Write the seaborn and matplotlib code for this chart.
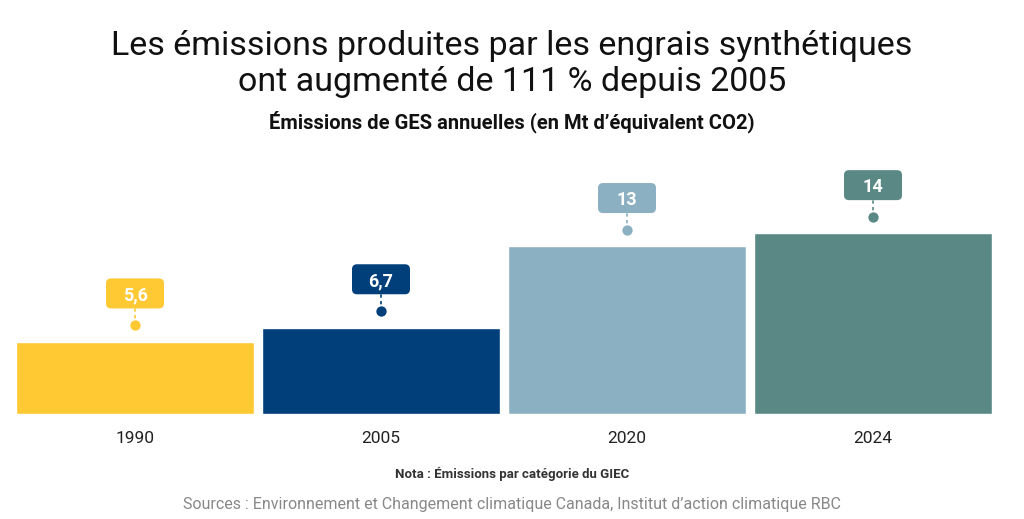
import matplotlib
matplotlib.use("Agg")
import matplotlib.pyplot as plt
import matplotlib.transforms as mtransforms
from matplotlib.patches import FancyBboxPatch
import seaborn as sns
import pandas as pd

years = ["1990", "2005", "2020", "2024"]
values = [5.6, 6.7, 13, 14]
value_labels = ["5,6", "6,7", "13", "14"]
colors = ["#FFC933", "#003F7A", "#8BB0C2", "#5A8985"]

title = "Les émissions produites par les engrais synthétiques\nont augmenté de 111 % depuis 2005"
subtitle = "Émissions de GES annuelles (en Mt d’équivalent CO2)"
note = "Nota : Émissions par catégorie du GIEC"
sources = "Sources : Environnement et Changement climatique Canada, Institut d’action climatique RBC"

sns.set_theme(style="white")
plt.rcParams["font.family"] = ["Roboto", "DejaVu Sans"]

df = pd.DataFrame({"year": years, "value": values})

fig = plt.figure(figsize=(10.24, 5.19), dpi=100)
ax = fig.add_axes([12 / 1024, 1 - 414 / 519, 984 / 1024, 254 / 519])
sns.barplot(data=df, x="year", y="value", hue="year", palette=colors,
            legend=False, width=0.967, saturation=1, ax=ax)
ax.set_xlim(-0.5, 3.5)
ax.set_ylim(0, 19.7)
sns.despine(ax=ax, left=True, bottom=True)
ax.set_yticks([])
ax.set_xlabel("")
ax.set_ylabel("")
ax.tick_params(axis="x", length=0, pad=12, labelsize=12.5, labelcolor="#222222")

for i, (v, lab, c) in enumerate(zip(values, value_labels, colors)):
    dot_y = v + 1.3
    box_y = v + 3.75
    ax.plot([i, i], [dot_y, box_y], color=c, lw=1.2, ls=(0, (2, 2)), zorder=3)
    ax.scatter([i], [dot_y], s=55, color=c, zorder=4, linewidths=0)
    trans = fig.dpi_scale_trans + mtransforms.ScaledTranslation(i, box_y, ax.transData)
    box = FancyBboxPatch((-0.29, -0.15), 0.58, 0.30,
                         boxstyle="round,pad=0,rounding_size=0.05",
                         transform=trans, facecolor=c, edgecolor="none", zorder=5)
    ax.add_patch(box)
    ax.text(i, box_y, lab, ha="center", va="center_baseline", color="white",
            fontsize=13, fontweight="bold", zorder=6)

fig.text(0.5, 1 - 64 / 519, title, ha="center", va="center", fontsize=24.5,
         color="#111111", linespacing=1.15)
fig.text(0.5, 1 - 122 / 519, subtitle, ha="center", va="center", fontsize=14.5,
         fontweight="bold", color="#111111")
fig.text(0.5, 1 - 474 / 519, note, ha="center", va="center", fontsize=9.5,
         fontweight="bold", color="#333333")
fig.text(0.5, 1 - 504 / 519, sources, ha="center", va="center", fontsize=11.5,
         color="#888888")

fig.savefig("out.png", dpi=100)
